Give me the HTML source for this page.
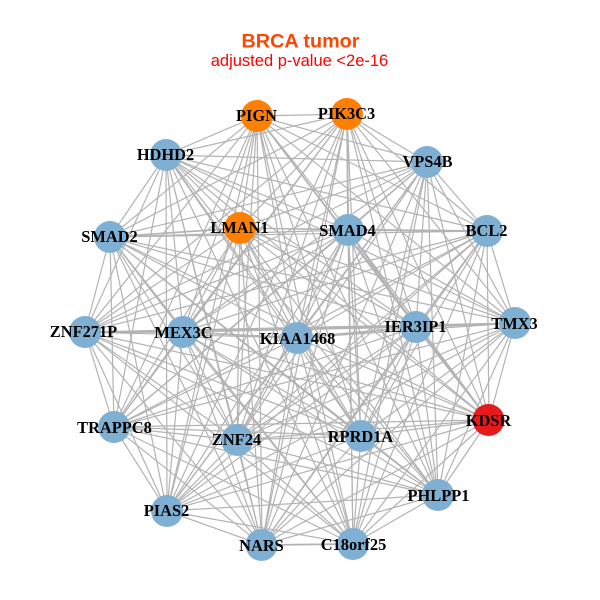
<!DOCTYPE html>
<html><head><meta charset="utf-8"><style>
html,body{margin:0;padding:0;background:#fff}
svg{display:block}
.n{font:bold 16.4px "Liberation Serif",serif;fill:#000;text-anchor:middle}
</style></head><body>
<svg width="600" height="600" viewBox="0 0 600 600" xmlns="http://www.w3.org/2000/svg">
<rect width="600" height="600" fill="#fff"/>
<g fill="none" stroke="#b3b3b3" stroke-width="1.2" stroke-linejoin="bevel">
<path d="M257 116L347 114 257 116 166 155 257 116 427 162 257 116 240 228 257 116 348 230 257 116 487 231 257 116 110 237 257 116 515 323 257 116 416 327 257 116 85 332 257 116 183 332 257 116 297 338 257 116 489 420 257 116 114 427 257 116 237 440 257 116 361 436 257 116 438 495 257 116 167 511 257 116 262 545 257 116 353 544"/>
<path d="M347 114L166 155 347 114 427 162 347 114 240 228 347 114 348 230 347 114 487 231 347 114 110 237 347 114 515 323 347 114 416 327 347 114 85 332 347 114 183 332 347 114 297 338 347 114 489 420 347 114 114 427 347 114 237 440 347 114 361 436 347 114 438 495 347 114 167 511 347 114 262 545 347 114 353 544"/>
<path d="M166 155L427 162 166 155 240 228 166 155 348 230 166 155 487 231 166 155 110 237 166 155 515 323 166 155 416 327 166 155 85 332 166 155 183 332 166 155 297 338 166 155 489 420 166 155 114 427 166 155 237 440 166 155 361 436 166 155 438 495 166 155 167 511 166 155 262 545 166 155 353 544"/>
<path d="M427 162L240 228 427 162 348 230 427 162 487 231 427 162 110 237 427 162 515 323 427 162 416 327 427 162 85 332 427 162 183 332 427 162 297 338 427 162 489 420 427 162 114 427 427 162 237 440 427 162 361 436 427 162 438 495 427 162 167 511 427 162 262 545 427 162 353 544"/>
<path d="M240 228L348 230 240 228 487 231 240 228 110 237 240 228 515 323 240 228 416 327 240 228 85 332 240 228 183 332 240 228 297 338 240 228 489 420 240 228 114 427 240 228 237 440 240 228 361 436 240 228 438 495 240 228 167 511 240 228 262 545 240 228 353 544"/>
<path d="M348 230L487 231 348 230 110 237 348 230 515 323 348 230 416 327 348 230 85 332 348 230 183 332 348 230 297 338 348 230 489 420 348 230 114 427 348 230 237 440 348 230 361 436 348 230 438 495 348 230 167 511 348 230 262 545 348 230 353 544"/>
<path d="M487 231L110 237 487 231 515 323 487 231 416 327 487 231 85 332 487 231 183 332 487 231 297 338 487 231 489 420 487 231 114 427 487 231 237 440 487 231 361 436 487 231 438 495 487 231 167 511 487 231 262 545 487 231 353 544"/>
<path d="M110 237L515 323 110 237 416 327 110 237 85 332 110 237 183 332 110 237 297 338 110 237 489 420 110 237 114 427 110 237 237 440 110 237 361 436 110 237 438 495 110 237 167 511 110 237 262 545 110 237 353 544"/>
<path d="M515 323L416 327 515 323 85 332 515 323 183 332 515 323 297 338 515 323 489 420 515 323 114 427 515 323 237 440 515 323 361 436 515 323 438 495 515 323 167 511 515 323 262 545 515 323 353 544"/>
<path d="M416 327L85 332 416 327 183 332 416 327 297 338 416 327 489 420 416 327 114 427 416 327 237 440 416 327 361 436 416 327 438 495 416 327 167 511 416 327 262 545 416 327 353 544"/>
<path d="M85 332L183 332 85 332 297 338 85 332 489 420 85 332 114 427 85 332 237 440 85 332 361 436 85 332 438 495 85 332 167 511 85 332 262 545 85 332 353 544"/>
<path d="M183 332L297 338 183 332 489 420 183 332 114 427 183 332 237 440 183 332 361 436 183 332 438 495 183 332 167 511 183 332 262 545 183 332 353 544"/>
<path d="M297 338L489 420 297 338 114 427 297 338 237 440 297 338 361 436 297 338 438 495 297 338 167 511 297 338 262 545 297 338 353 544"/>
<path d="M489 420L114 427 489 420 237 440 489 420 361 436 489 420 438 495 489 420 167 511 489 420 262 545 489 420 353 544"/>
<path d="M114 427L237 440 114 427 361 436 114 427 438 495 114 427 167 511 114 427 262 545 114 427 353 544"/>
<path d="M237 440L361 436 237 440 438 495 237 440 167 511 237 440 262 545 237 440 353 544"/>
<path d="M361 436L438 495 361 436 167 511 361 436 262 545 361 436 353 544"/>
<path d="M438 495L167 511 438 495 262 545 438 495 353 544"/>
<path d="M167 511L262 545 167 511 353 544"/>
<path d="M262 545L353 544"/>
</g>
<g fill="none" stroke="#b3b3b3" stroke-width="1.7">
<path d="M85 332L183 332M183 332L297 338M110 237L240 228M348 230L487 231M297 338L416 327M416 327L515 323M416 327L489 420M262 545L353 544M348 230L416 327M347 114L348 230"/>
</g>
<g fill="#7fb0d3">
<circle cx="166" cy="155" r="16"/><circle cx="427" cy="162" r="16"/><circle cx="348" cy="230" r="16"/><circle cx="487" cy="231" r="16"/><circle cx="110" cy="237" r="16"/><circle cx="515" cy="323" r="16"/><circle cx="416" cy="327" r="16"/><circle cx="85" cy="332" r="16"/><circle cx="183" cy="332" r="16"/><circle cx="297" cy="338" r="16"/><circle cx="114" cy="427" r="16"/><circle cx="237" cy="440" r="16"/><circle cx="361" cy="436" r="16"/><circle cx="438" cy="495" r="16"/><circle cx="167" cy="511" r="16"/><circle cx="261.500" cy="545" r="16"/><circle cx="353" cy="544" r="16"/>
</g>
<g fill="#ff7f00"><circle cx="257" cy="116" r="16"/><circle cx="347" cy="114" r="16"/><circle cx="240" cy="228" r="16"/></g>
<circle cx="488.500" cy="420" r="16" fill="#e41a1c"/>
<g class="labels">
<text class="n" x="256.500" y="121">PIGN</text>
<text class="n" x="346.500" y="119">PIK3C3</text>
<text class="n" x="165.500" y="160">HDHD2</text>
<text class="n" x="427.500" y="167">VPS4B</text>
<text class="n" x="239.500" y="233">LMAN1</text>
<text class="n" x="347.500" y="236">SMAD4</text>
<text class="n" x="486.500" y="236">BCL2</text>
<text class="n" x="109.500" y="242">SMAD2</text>
<text class="n" x="514.500" y="329">TMX3</text>
<text class="n" x="415.500" y="332">IER3IP1</text>
<text class="n" x="83.500" y="337">ZNF271P</text>
<text class="n" x="183.500" y="338">MEX3C</text>
<text class="n" x="297.500" y="344">KIAA1468</text>
<text class="n" x="488.500" y="426">KDSR</text>
<text class="n" x="114.500" y="433">TRAPPC8</text>
<text class="n" x="236.500" y="445">ZNF24</text>
<text class="n" x="360.500" y="442">RPRD1A</text>
<text class="n" x="438.500" y="501">PHLPP1</text>
<text class="n" x="166.500" y="516">PIAS2</text>
<text class="n" x="261.500" y="551">NARS</text>
<text class="n" x="353.500" y="550">C18orf25</text>
</g>
<text x="300.500" y="47.500" text-anchor="middle" style="font:bold 19.800px 'Liberation Sans',sans-serif" fill="#ff4500">BRCA tumor</text>
<text x="299.500" y="66" text-anchor="middle" style="font:16.500px 'Liberation Sans',sans-serif" fill="#ff0000">adjusted p-value &lt;2e-16</text>
</svg>
</body></html>
